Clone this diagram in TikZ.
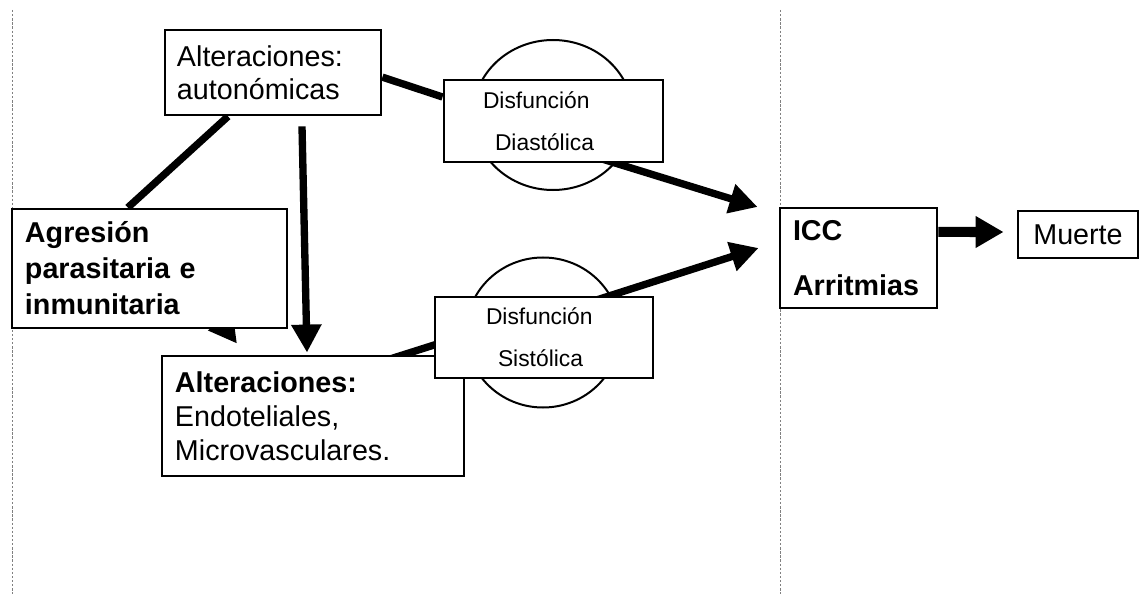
\documentclass[tikz,border=0pt]{standalone}
\usepackage{fontspec}
\setmainfont{Liberation Sans}
\usetikzlibrary{arrows.meta}
\pgfdeclarelayer{bg}
\pgfsetlayers{bg,main}
\begin{document}
\begin{tikzpicture}[x=0.03cm, y=-0.03cm,
  box/.style={draw, line width=0.085cm, fill=white, rectangle, inner ysep=0pt,
    align=left, font=\fontsize{24.5}{28}\selectfont},
  conn/.style={line width=0.22cm},
  arr/.style={conn, -{Triangle[width=0.86cm,length=0.84cm]}},
  sep/.style={gray, line width=0.03cm, dash pattern=on 2pt off 1.5pt},
  lens/.style={line width=0.06cm}]
  \useasboundingbox (0,0) rectangle (1139,594);
  \draw[sep] (12,10) -- (12,594);
  \draw[sep] (780,10) -- (780,594);
  \draw[lens] (553,115) ellipse [x radius=2.4cm, y radius=2.25cm];
  \draw[lens] (543,332.5) ellipse [x radius=2.31cm, y radius=2.25cm];
  \node[box, text width=5.76cm, inner xsep=0.36cm, minimum height=2.55cm] (auto)
    at (273,72.5) {Alteraciones:\\autonómicas};
  \node[box, text width=7.47cm, inner xsep=0.39cm, minimum height=3.57cm,
    font=\bfseries\fontsize{24.5}{30.7}\selectfont] (agr)
    at (149.5,268.5) {Agresión\\parasitaria e\\inmunitaria};
  \node[box, text width=8.28cm, inner xsep=0.39cm, minimum height=3.6cm,
    font=\fontsize{24.5}{29}\selectfont] (endo)
    at (313,416) {\textbf{Alteraciones:}\\Endoteliales,\\Microvasculares.};
  \node[box, text width=4.23cm, inner xsep=1.17cm, minimum height=2.46cm,
    font=\fontsize{19.5}{36}\selectfont] (dia)
    at (553.5,121) {Disfunción\\\hspace*{0.36cm}Diastólica};
  \node[box, text width=3.48cm, inner xsep=1.53cm, minimum height=2.43cm,
    font=\fontsize{19.5}{36}\selectfont] (sis)
    at (544,337.5) {Disfunción\\\hspace*{0.36cm}Sistólica};
  \node[box, text width=3.93cm, inner xsep=0.39cm, minimum height=3cm,
    font=\bfseries\fontsize{24.5}{47}\selectfont] (icc)
    at (858.5,258) {ICC\\Arritmias};
  \node[box, text width=3.6cm, inner xsep=0pt, minimum height=1.41cm, align=center] (muerte)
    at (1078,234.5) {Muerte};
  \begin{pgfonlayer}{bg}
    \draw[conn] ([xshift=-0.65cm]agr.north) -- ([xshift=-1.35cm]auto.south);
    \draw[arr] ([xshift=0.87cm,yshift=-0.3cm]auto.south) -- ([xshift=-0.18cm,yshift=0.06cm]endo.north);
    \draw[arr] ([xshift=1.1cm,yshift=-0.22cm]agr.center) -- ([xshift=-2.28cm,yshift=0.33cm]endo.north);
    \draw[conn] ([yshift=-0.14cm]auto.east) -- ([yshift=0.72cm]dia.west);
    \draw[arr] ([xshift=1.4cm,yshift=0.15cm]dia.south) -- ([xshift=-0.63cm,yshift=1.53cm]icc.west);
    \draw[conn] ([xshift=2.16cm,yshift=-0.18cm]endo.north) -- ([xshift=0.3cm,yshift=-0.135cm]sis.west);
    \draw[arr] ([xshift=1.38cm,yshift=-0.195cm]sis.north) -- ([xshift=-0.6cm,yshift=0.3cm]icc.west);
    \draw[line width=0.3cm, -{Triangle[width=0.9cm,length=0.84cm]}] ([yshift=0.78cm]icc.east) -- ([xshift=-0.39cm,yshift=0.075cm]muerte.west);
  \end{pgfonlayer}
\end{tikzpicture}
\end{document}
